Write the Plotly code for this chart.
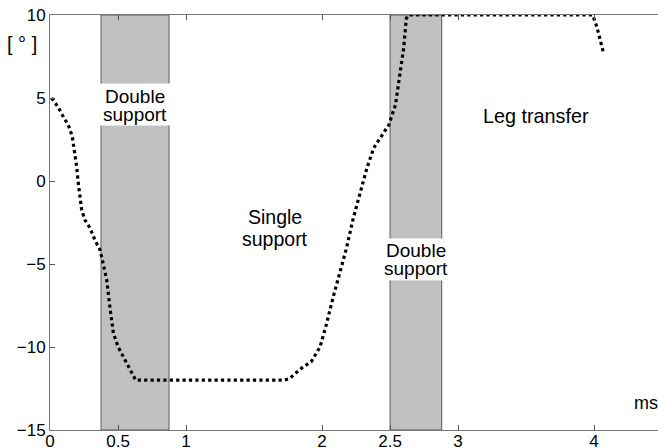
import plotly.graph_objects as go

# ---- data ----
time_ms = [0.012, 0.06, 0.098, 0.135, 0.164, 0.184, 0.196, 0.208, 0.221, 0.233, 0.257,
           0.294, 0.33, 0.368, 0.385, 0.417, 0.44, 0.466, 0.50, 0.576, 0.63,
           1.72, 1.76, 1.86, 1.92, 1.985, 2.03, 2.08, 2.13, 2.18, 2.23, 2.28, 2.33,
           2.38, 2.43, 2.49, 2.54, 2.57, 2.60, 2.62, 2.635, 3.99, 4.02, 4.07]
angle_deg = [5.0, 4.45, 3.87, 3.37, 2.67, 1.67, 0.86, -0.14, -0.95, -1.75, -2.35,
             -2.83, -3.55, -4.16, -4.76, -5.96, -7.57, -9.17, -9.98, -11.19, -12.0,
             -12.0, -11.9, -11.2, -10.9, -10.0, -8.7, -7.05, -5.46, -4.04, -2.23, -0.64, 0.78,
             1.99, 2.59, 3.37, 4.58, 6.19, 8.0, 9.8, 10.0, 10.0, 9.3, 7.7]

band_start = [0.375, 2.5]
band_end = [0.875, 2.88]

x_tickvals = [0, 0.5, 1, 2, 2.5, 3, 4]
x_ticktext = ["0", "0.5", "1", "2", "2.5", "3", "4"]
y_tickvals = [-15, -10, -5, 0, 5, 10]

FONT = "Liberation Sans, Arial, Helvetica, sans-serif"

fig = go.Figure()
fig.add_trace(go.Scatter(
    x=time_ms, y=angle_deg, mode="lines",
    line=dict(color="black", width=3.2, dash="dot"),
    showlegend=False, hoverinfo="skip"))

shapes = []
# gray bands
for s, e in zip(band_start, band_end):
    shapes.append(dict(type="rect", xref="x", yref="y", x0=s, x1=e, y0=-15, y1=10,
                       fillcolor="#c0c0c0", line=dict(color="#5a5a5a", width=1), layer="below"))
# white label boxes over the bands
label_box_y = [(3.37, 5.84), (-5.96, -3.49)]
for (s, e), (y0, y1) in zip(zip(band_start, band_end), label_box_y):
    shapes.append(dict(type="rect", xref="x", yref="y", x0=s - 0.01, x1=e + 0.01, y0=y0, y1=y1,
                       fillcolor="white", line=dict(color="white", width=1), layer="below"))

annotations = []
def txt(x, y, t, size=19, xref="x"):
    annotations.append(dict(x=x, y=y, xref=xref, yref="y", text=t, showarrow=False,
                            font=dict(family=FONT, size=size, color="black"),
                            xanchor="center", yanchor="middle"))

mid1 = (band_start[0] + band_end[0]) / 2
mid2 = (band_start[1] + band_end[1]) / 2
txt(mid1, 5.12, "Double")
txt(mid1, 4.02, "support")
txt(mid2, -4.18, "Double")
txt(mid2, -5.26, "support")
txt(1.653, -2.15, "Single", 19.5)
txt(1.653, -3.5, "support", 19.5)
txt(3.574, 3.92, "Leg transfer", 19.8)
txt(4.385, -13.35, "ms", 18)
txt(-28 / 608, 8.25, "[ ° ]", 20, xref="paper")

fig.update_layout(
    width=658, height=448,
    margin=dict(l=50, r=0, t=15, b=18),
    paper_bgcolor="white", plot_bgcolor="white",
    shapes=shapes, annotations=annotations,
    font=dict(family=FONT, size=17, color="black"),
    xaxis=dict(range=[0, 4.47], tickvals=x_tickvals, ticktext=x_ticktext,
               ticks="inside", ticklen=5, tickcolor="#555", showline=True,
               linecolor="#777", linewidth=1, mirror="ticks", showgrid=False,
               zeroline=False, automargin=False, ticklabelstandoff=-4,
               tickfont=dict(family=FONT, size=17, color="black")),
    yaxis=dict(range=[-15, 10], tickvals=y_tickvals,
               ticks="inside", ticklen=5, tickcolor="#555", showline=True,
               linecolor="#777", linewidth=1, showgrid=False, zeroline=False,
               automargin=False,
               tickfont=dict(family=FONT, size=17, color="black")),
)

fig.write_html("out.html")
